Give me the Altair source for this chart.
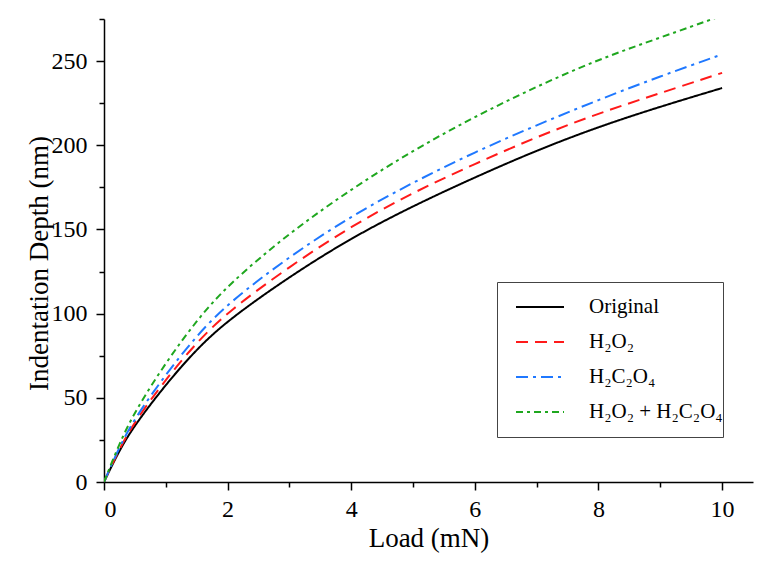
import altair as alt
import pandas as pd

load = [0, 0.25, 0.5, 1, 1.5, 2, 3, 4, 5, 6, 7, 8, 9, 10]
original = [0, 19, 34, 58, 79, 96, 122, 145, 164, 181, 197, 211, 223, 234]
h2o2 = [0, 20, 36, 61, 83, 101, 128, 152, 172, 189, 205, 219, 231, 243]
h2c2o4 = [0, 21, 38, 64, 87, 106, 134, 158, 178, 196, 212, 227, 241, 254]
both = [0, 23, 42, 71, 96, 117, 148, 174, 197, 217, 235, 251, 264, 277]

names = ["Original", "H₂O₂", "H₂C₂O₄", "H₂O₂ + H₂C₂O₄"]
colors = ["#000000", "#FF1A1A", "#1F78FF", "#1FA71F"]
dashes = [[1, 0], [12, 7], [12, 5, 3, 5], [7, 4, 3, 4]]

rows = []
for name, series in zip(names, [original, h2o2, h2c2o4, both]):
    for x, y in zip(load, series):
        rows.append({"Load": x, "Depth": y, "Sample": name})
df = pd.DataFrame(rows)

FONT = "Liberation Serif"

chart = alt.Chart(df).mark_line(strokeWidth=2, interpolate="basis", clip=True).encode(
    x=alt.X("Load:Q", scale=alt.Scale(domain=[0, 10.5], nice=False, zero=False),
            axis=alt.Axis(title="Load (mN)", values=list(range(0, 11)),
                          labelExpr="datum.value % 2 === 0 ? datum.label : ''",
                          tickSize={"condition": {"test": "datum.value % 2 === 0", "value": 8}, "value": 5},
                          labelPadding=7, titlePadding=4)),
    y=alt.Y("Depth:Q", scale=alt.Scale(domain=[0, 275], nice=False, zero=False),
            axis=alt.Axis(title="Indentation Depth (nm)", values=list(range(0, 276, 25)),
                          labelExpr="datum.value % 50 === 0 ? datum.label : ''",
                          tickSize={"condition": {"test": "datum.value % 50 === 0", "value": 8}, "value": 5},
                          labelPadding=9, titlePadding=-2, titleY=244)),
    color=alt.Color("Sample:N", scale=alt.Scale(domain=names, range=colors),
                    legend=alt.Legend(title="\u00a0", titleOrient="bottom", titleFontSize=10,
                                      titlePadding=5, orient="none", legendX=393, legendY=263,
                                      symbolType="stroke", symbolSize=2304, symbolStrokeWidth=2,
                                      labelFont=FONT, labelFontSize=21, labelColor="black",
                                      strokeColor="#444444", padding=0, rowPadding=-22,
                                      labelOffset=24, symbolOffset=18)),
    strokeDash=alt.StrokeDash("Sample:N", scale=alt.Scale(domain=names, range=dashes), legend=None),
).properties(
    width=649, height=463, background="white",
    autosize=alt.AutoSizeParams(type="none"),
    padding={"left": 96, "top": 11, "right": 18, "bottom": 74},
).configure_view(stroke=None).configure_axis(
    grid=False, domainColor="black", domainWidth=1.5, tickColor="black", tickWidth=1.5,
    labelFont=FONT, labelFontSize=24, labelColor="black",
    titleFont=FONT, titleFontSize=27, titleFontWeight="normal", titleColor="black",
)

chart.save("out.html", embed_options={"renderer": "svg", "actions": False})
